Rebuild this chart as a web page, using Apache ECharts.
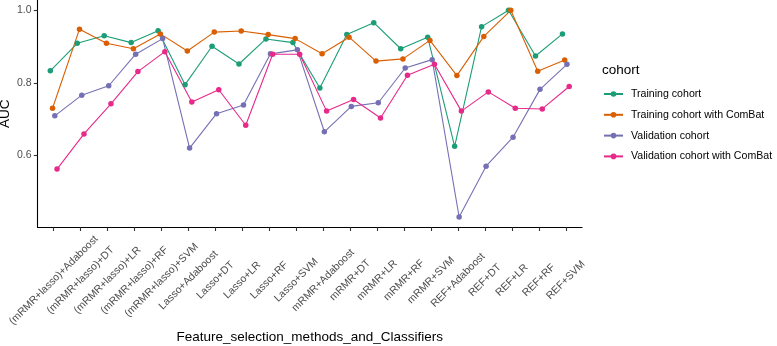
<!DOCTYPE html>
<html>
<head>
<meta charset="utf-8">
<script src="https://cdn.jsdelivr.net/npm/echarts@6/dist/echarts.min.js"></script>
<style>
  html, body { margin: 0; padding: 0; background: #fff; }
  #chart { width: 777px; height: 346px; }
</style>
</head>
<body>
<div id="chart"></div>
<script>
const categories = [
  "(mRMR+lasso)+Adaboost", "(mRMR+lasso)+DT", "(mRMR+lasso)+LR", "(mRMR+lasso)+RF", "(mRMR+lasso)+SVM",
  "Lasso+Adaboost", "Lasso+DT", "Lasso+LR", "Lasso+RF", "Lasso+SVM",
  "mRMR+Adaboost", "mRMR+DT", "mRMR+LR", "mRMR+RF", "mRMR+SVM",
  "REF+Adaboost", "REF+DT", "REF+LR", "REF+RF", "REF+SVM"
];
const training = [0.833, 0.909, 0.930, 0.911, 0.944, 0.795, 0.901, 0.852, 0.921, 0.911,
                  0.786, 0.933, 0.966, 0.894, 0.926, 0.625, 0.955, 1.000, 0.874, 0.935];
const trainingCombat = [0.730, 0.948, 0.909, 0.894, 0.935, 0.888, 0.940, 0.943, 0.933, 0.922,
                        0.880, 0.926, 0.860, 0.866, 0.917, 0.820, 0.928, 1.000, 0.832, 0.863];
const validation = [0.709, 0.766, 0.792, 0.879, 0.922, 0.620, 0.715, 0.739, 0.880, 0.891,
                    0.665, 0.735, 0.745, 0.841, 0.864, 0.430, 0.570, 0.650, 0.782, 0.851];
const validationCombat = [0.562, 0.659, 0.742, 0.831, 0.886, 0.747, 0.781, 0.683, 0.879, 0.879,
                          0.722, 0.754, 0.703, 0.821, 0.851, 0.722, 0.775, 0.730, 0.728, 0.790];
const seriesNames = ["Training cohort", "Training cohort with ComBat", "Validation cohort", "Validation cohort with ComBat"];
const yTicks = [0.6, 0.8, 1.0];

const colors = ["#1B9E77", "#D95F02", "#7570B3", "#E7298A"];
const dodge = [-0.125, -0.042, 0.042, 0.125];   // position_dodge look
const FONT = "Liberation Sans";
const yMin = 0.4015, yMax = 1.0285;

const chart = echarts.init(document.getElementById("chart"), null, {renderer: "canvas"});

const allValues = [training, trainingCombat, validation, validationCombat];
const series = allValues.map((vals, k) => ({
  name: seriesNames[k],
  type: "line",
  data: vals.map((v, i) => [i + 1 + dodge[k], v]),
  symbol: "circle",
  symbolSize: 5.5,
  lineStyle: {width: 1.1, color: colors[k]},
  itemStyle: {color: colors[k]},
  emphasis: {disabled: true},
  animation: false
}));

const tickPos = categories.map((c, i) => i + 1);

chart.setOption({
  animation: false,
  textStyle: {fontFamily: FONT},
  title: {
    text: "cohort",
    left: 602,
    top: 63,
    padding: 0,
    textStyle: {fontFamily: FONT, fontSize: 13.5, fontWeight: "normal", color: "#000"}
  },
  legend: {
    orient: "vertical",
    left: 603,
    top: 88.5,
    padding: 0,
    itemWidth: 19,
    itemHeight: 7,
    itemGap: 9.8,
    data: seriesNames,
    textStyle: {fontFamily: FONT, fontSize: 10.6, color: "#000", padding: [0, 0, 0, 3]}
  },
  grid: {left: 37.5, right: 195, top: 0, bottom: 118.7, containLabel: false, outerBoundsMode: "none"},
  xAxis: {
    type: "value",
    min: 0.4,
    max: 20.6,
    name: "Feature_selection_methods_and_Classifiers",
    nameLocation: "middle",
    nameGap: 103,
    nameMoveOverlap: false,
    nameTextStyle: {fontFamily: FONT, fontSize: 13.5, color: "#000"},
    axisLine: {show: true, onZero: false, lineStyle: {color: "#000", width: 1.1}},
    axisTick: {show: true, customValues: tickPos, length: 3.7, lineStyle: {color: "#333", width: 1.1}},
    axisLabel: {show: false},
    splitLine: {show: false}
  },
  yAxis: {
    type: "value",
    min: yMin,
    max: yMax,
    name: "AUC",
    nameLocation: "middle",
    nameGap: 25,
    nameMoveOverlap: false,
    nameTextStyle: {fontFamily: FONT, fontSize: 13.5, color: "#000"},
    axisLine: {show: true, lineStyle: {color: "#000", width: 1.1}},
    axisTick: {show: true, customValues: yTicks, length: 3.7, lineStyle: {color: "#333", width: 1.1}},
    axisLabel: {
      customValues: yTicks,
      formatter: v => v.toFixed(1),
      margin: 6,
      fontFamily: FONT,
      fontSize: 10.5,
      color: "#4D4D4D"
    },
    splitLine: {show: false}
  },
  series: series
});

// rotated category labels: each one centred on its tick, all on one middle line
const ctx = document.createElement("canvas").getContext("2d");
ctx.font = '10.5px "' + FONT + '"';
const halves = categories.map(c => (ctx.measureText(c).width + 9) * Math.SQRT1_2 / 2);
const maxHalf = Math.max(...halves);
const labelGraphics = categories.map((c, i) => {
  const p = chart.convertToPixel({xAxisIndex: 0, yAxisIndex: 0}, [i + 1, yMin]);
  return {
    type: "text",
    x: p[0],
    y: p[1] + 7 + maxHalf,
    rotation: Math.PI / 4,
    silent: true,
    style: {
      text: c,
      x: 0,
      y: 0,
      align: "center",
      verticalAlign: "middle",
      fontFamily: FONT,
      fontSize: 10.5,
      fill: "#4D4D4D"
    }
  };
});
chart.setOption({graphic: labelGraphics});
</script>
</body>
</html>
